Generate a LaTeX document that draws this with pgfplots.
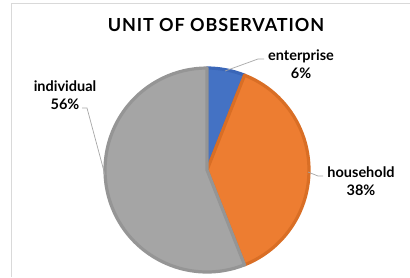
\documentclass[border=0pt]{standalone}
\usepackage{pgfplots}
\pgfplotsset{compat=1.18}
\usepackage{pgfplotstable}
\usepackage{fontspec}
\setmainfont{Lato}
\newfontfamily\titlefont[LetterSpace=5]{Lato}
\definecolor{slice0}{HTML}{4472C4}
\definecolor{slice0b}{HTML}{3A66B8}
\definecolor{slice1}{HTML}{ED7D31}
\definecolor{slice1b}{HTML}{D96E25}
\definecolor{slice2}{HTML}{A5A5A5}
\definecolor{slice2b}{HTML}{959595}
\definecolor{leader}{HTML}{A6A6A6}
\definecolor{frame}{HTML}{D9D9D9}
\pgfplotstableread[col sep=comma]{
label,value
enterprise,6
household,38
individual,56
}\piedata
\begin{document}
\begin{tikzpicture}
\begin{axis}[x=1pt,y=1pt,xmin=0,xmax=410,ymin=0,ymax=277,hide axis,clip=false]
\def\cx{207}\def\cy{107}\def\R{102}
\xdef\startang{90}
\pgfplotsinvokeforeach{0,1,2}{
  \pgfplotstablegetelem{#1}{value}\of\piedata
  \pgfmathsetmacro{\endang}{\startang-3.6*\pgfplotsretval}
  \edef\tmp{\noexpand\filldraw[fill=slice#1,draw=slice#1b,line width=3.2pt,line join=round]
    (axis cs:\cx,\cy) -- ++(\startang:\R pt) arc[start angle=\startang,end angle=\endang,radius=\R pt] -- cycle;}
  \tmp
  \xdef\startang{\endang}
}
\draw[frame,line width=0.8pt] (axis cs:11,0) -- (axis cs:11,274) -- (axis cs:410,274);
\node[font=\titlefont\bfseries\fontsize{18}{20}\selectfont] at (axis cs:216,252) {UNIT OF OBSERVATION};
\draw[leader,line width=0.7pt] (axis cs:225,206) -- (axis cs:258,218) -- (axis cs:264,218);
\draw[leader,line width=0.7pt] (axis cs:308,105) -- (axis cs:318,101) -- (axis cs:323,101);
\draw[leader,line width=0.7pt] (axis cs:82,169) -- (axis cs:87,169) -- (axis cs:105,102);
\node[align=center,font=\bfseries\fontsize{14.5}{18}\selectfont] at (axis cs:301,213) {enterprise\\6\%};
\node[align=center,font=\bfseries\fontsize{14.5}{18}\selectfont] at (axis cs:361,96) {household\\38\%};
\node[align=center,font=\bfseries\fontsize{14.5}{18}\selectfont] at (axis cs:65,182) {individual\\56\%};
\end{axis}
\pgfresetboundingbox
\useasboundingbox (current axis.south west) rectangle (current axis.north east);
\end{tikzpicture}
\end{document}
